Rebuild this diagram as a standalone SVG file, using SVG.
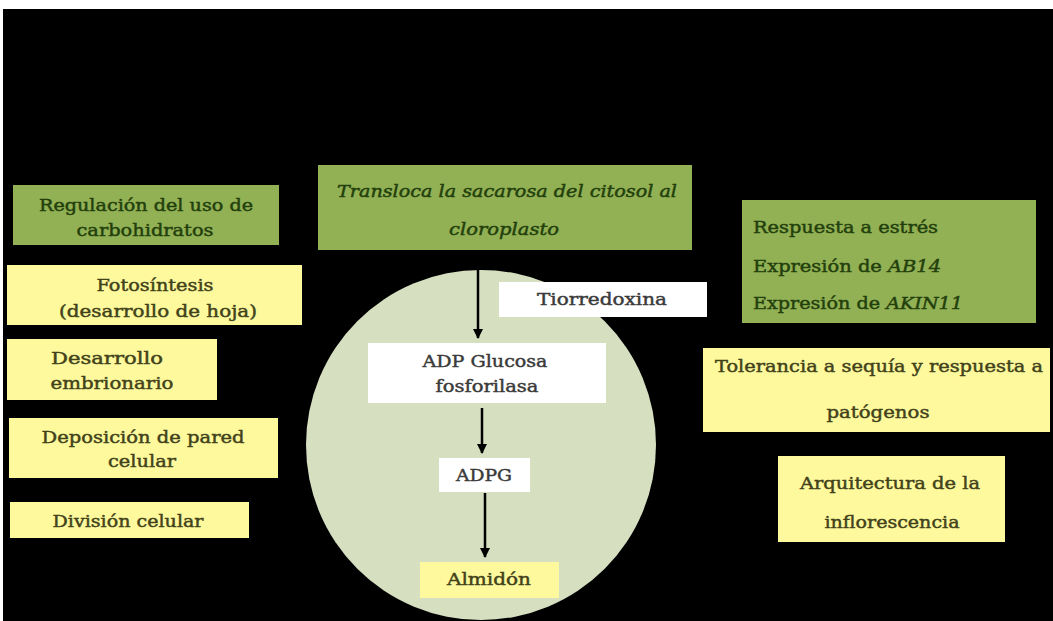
<svg xmlns="http://www.w3.org/2000/svg" width="1053" height="621" viewBox="0 0 1053 621">
<style>
text{font-family:"DejaVu Serif","Liberation Serif",serif;font-size:17px;text-anchor:middle;stroke-width:0.45}
.g{fill:#92b054}
.y{fill:#fdf99c}
.w{fill:#ffffff}
.tg{fill:#22400c;stroke:#22400c}
.ty{fill:#42421a;stroke:#42421a}
.tw{fill:#3a3a3a;stroke:#3a3a3a}
.it{font-style:italic}
.l{text-anchor:start}
.c{stroke:#000;stroke-width:2.5;fill:none;marker-end:url(#ah)}
</style>
<defs>
<marker id="ah" viewBox="0 0 10 10" refX="9" refY="5" markerWidth="4" markerHeight="4" orient="auto" markerUnits="strokeWidth">
<path d="M0,0 L10,5 L0,10 Z" fill="#000"/>
</marker>
</defs>
<rect x="0" y="0" width="1053" height="621" fill="#fff"/>
<rect x="3" y="9" width="1050" height="612" fill="#000"/>
<circle id="cloroplasto-circle" cx="481" cy="445" r="175" fill="#d6e0c1"/>

<g id="regulacion"><rect class="g" x="13" y="185" width="266" height="60"/>
<text class="tg" x="146" y="211" textLength="214" lengthAdjust="spacingAndGlyphs">Regulación del uso de</text>
<text class="tg" x="145" y="236" textLength="137" lengthAdjust="spacingAndGlyphs">carbohidratos</text></g>

<g id="fotosintesis"><rect class="y" x="7" y="265" width="295" height="60"/>
<text class="ty" x="155" y="291" textLength="117" lengthAdjust="spacingAndGlyphs">Fotosíntesis</text>
<text class="ty" x="158" y="317" textLength="198" lengthAdjust="spacingAndGlyphs">(desarrollo de hoja)</text></g>

<g id="desarrollo"><rect class="y" x="7" y="339" width="210" height="61"/>
<text class="ty" x="107" y="364" textLength="112" lengthAdjust="spacingAndGlyphs">Desarrollo</text>
<text class="ty" x="112" y="389" textLength="123" lengthAdjust="spacingAndGlyphs">embrionario</text></g>

<g id="deposicion"><rect class="y" x="9" y="418" width="269" height="60"/>
<text class="ty" x="143" y="443" textLength="203" lengthAdjust="spacingAndGlyphs">Deposición de pared</text>
<text class="ty" x="142" y="467" textLength="68" lengthAdjust="spacingAndGlyphs">celular</text></g>

<g id="division"><rect class="y" x="10" y="502" width="239" height="36"/>
<text class="ty" x="128" y="527" textLength="151" lengthAdjust="spacingAndGlyphs">División celular</text></g>

<g id="transloca"><rect class="g" x="318" y="165" width="374" height="85"/>
<text class="tg it" x="507" y="197" textLength="340" lengthAdjust="spacingAndGlyphs">Transloca la sacarosa del citosol al</text>
<text class="tg it" x="504" y="235" textLength="110" lengthAdjust="spacingAndGlyphs">cloroplasto</text></g>

<g id="tiorredoxina"><rect class="w" x="499" y="282" width="208" height="35"/>
<text class="tw" x="602" y="305" textLength="130" lengthAdjust="spacingAndGlyphs">Tiorredoxina</text></g>

<g id="adp-glucosa"><rect class="w" x="368" y="343" width="238" height="60"/>
<text class="tw" x="485" y="367" textLength="125" lengthAdjust="spacingAndGlyphs">ADP Glucosa</text>
<text class="tw" x="487" y="392" textLength="103" lengthAdjust="spacingAndGlyphs">fosforilasa</text></g>

<g id="adpg"><rect class="w" x="439" y="458" width="91" height="34"/>
<text class="tw" x="484" y="481" textLength="56" lengthAdjust="spacingAndGlyphs">ADPG</text></g>

<g id="almidon"><rect class="y" x="420" y="562" width="139" height="36"/>
<text class="ty" x="489" y="585" textLength="84" lengthAdjust="spacingAndGlyphs">Almidón</text></g>

<g id="respuesta"><rect class="g" x="742" y="200" width="294" height="123"/>
<text class="tg l" x="753" y="233" textLength="185" lengthAdjust="spacingAndGlyphs">Respuesta a estrés</text>
<text class="tg l" x="753" y="272" textLength="188" lengthAdjust="spacingAndGlyphs">Expresión de <tspan class="it">AB14</tspan></text>
<text class="tg l" x="753" y="309" textLength="210" lengthAdjust="spacingAndGlyphs">Expresión de <tspan class="it">AKIN11</tspan></text></g>

<g id="tolerancia"><rect class="y" x="703" y="348" width="347" height="84"/>
<text class="ty" x="879" y="372" textLength="328" lengthAdjust="spacingAndGlyphs">Tolerancia a sequía y respuesta a</text>
<text class="ty" x="878" y="418" textLength="103" lengthAdjust="spacingAndGlyphs">patógenos</text></g>

<g id="arquitectura"><rect class="y" x="778" y="456" width="227" height="86"/>
<text class="ty" x="890" y="489" textLength="180" lengthAdjust="spacingAndGlyphs">Arquitectura de la</text>
<text class="ty" x="892" y="528" textLength="135" lengthAdjust="spacingAndGlyphs">inflorescencia</text></g>

<g id="connectors">
<line class="c" x1="478" y1="250" x2="478" y2="338"/>
<line class="c" x1="482" y1="408" x2="482" y2="453"/>
<line class="c" x1="485" y1="493" x2="485" y2="557"/>
</g>
</svg>
